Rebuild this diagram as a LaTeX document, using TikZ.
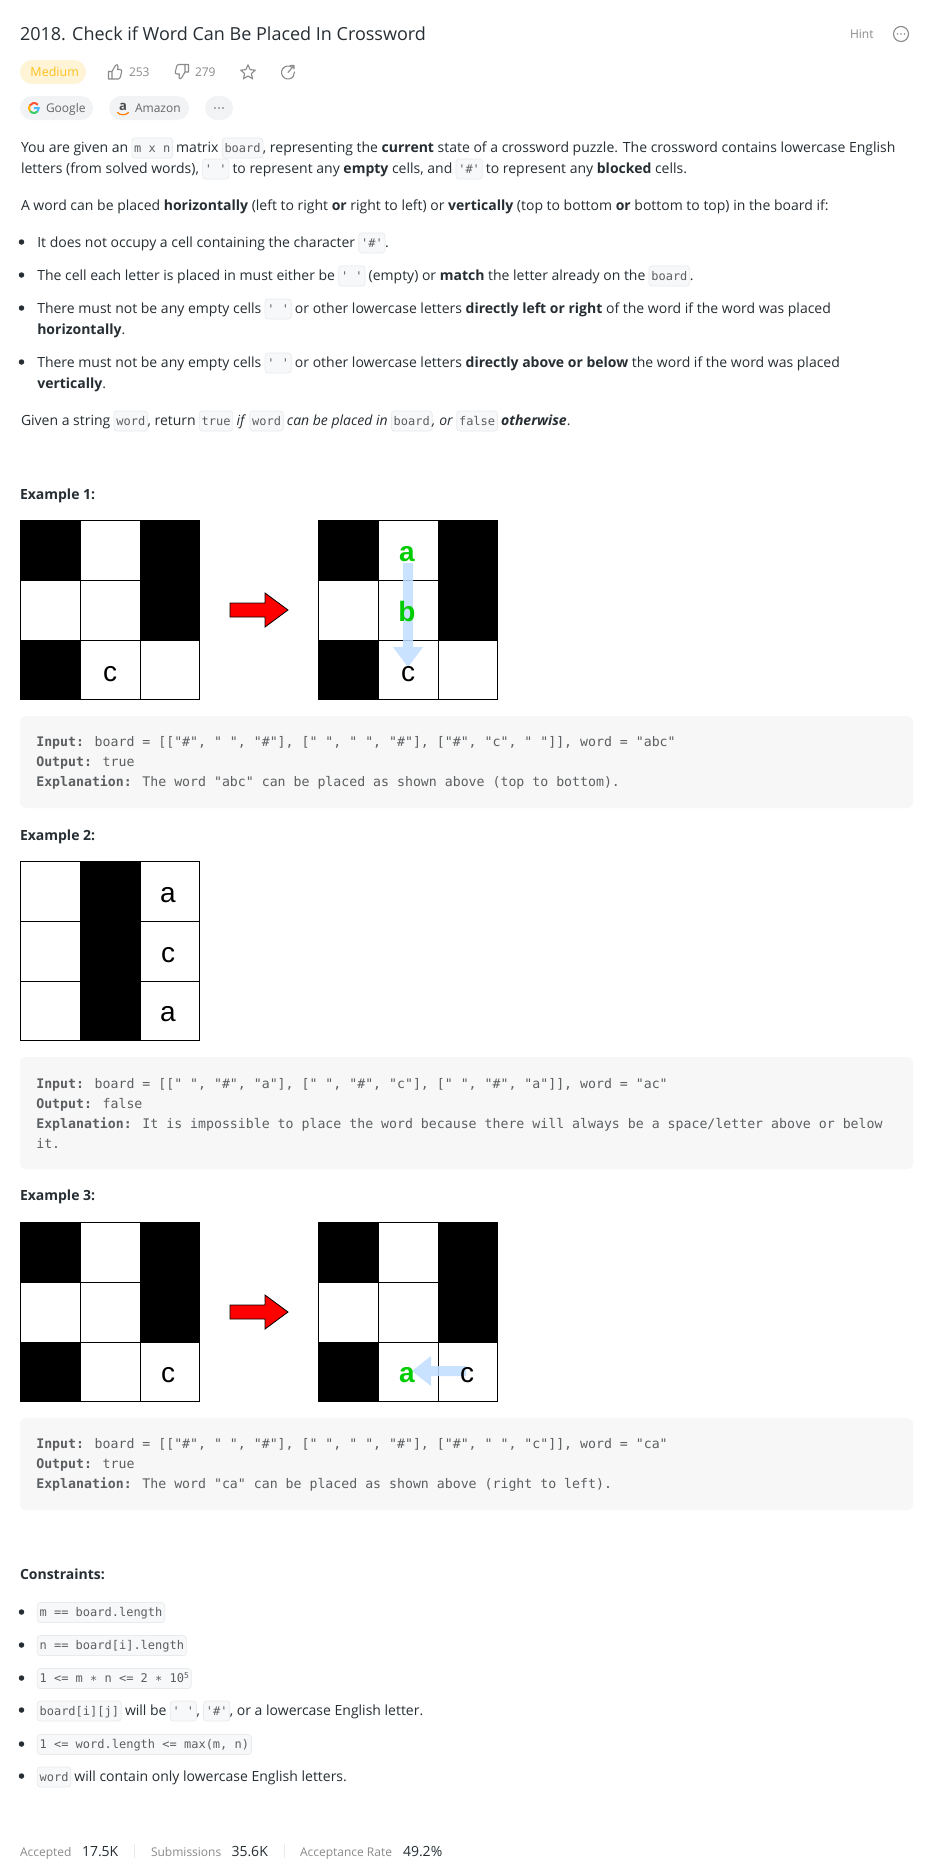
\documentclass[tikz,border=0pt]{standalone}
\usepackage{fontspec}
\usetikzlibrary{shapes.geometric}
\setmainfont{Open Sans}
\newfontfamily\cdf{DejaVu Sans Mono}
\newfontfamily\arf{Liberation Sans}
\definecolor{ink}{HTML}{262E33}
\definecolor{codeink}{HTML}{5C5F61}
\definecolor{chipbg}{HTML}{F7F8F9}
\definecolor{chipln}{HTML}{E9EAEB}
\definecolor{boxbg}{HTML}{F7F7F7}
\definecolor{pill}{HTML}{F2F3F5}
\definecolor{gicon}{HTML}{8A8A8A}
\definecolor{blueA}{HTML}{BFDDFF}
\definecolor{greenL}{HTML}{00CC00}
\definecolor{medbg}{HTML}{FFF4D6}
\definecolor{medtx}{HTML}{FFC01E}
\tikzset{
  txt/.style={anchor=base west,inner sep=0pt,outer sep=0pt,text=ink,font=\fontsize{14}{21}\selectfont},
  chip/.style={anchor=base west,draw=chipln,fill=chipbg,rounded corners=3pt,line width=0.7pt,outer sep=0pt,
    inner xsep=2.3pt,inner ysep=3pt,text height=11pt,text depth=3pt,text=codeink,font=\cdf\fontsize{12}{14}\selectfont},
  heading/.style={txt,font=\bfseries\fontsize{14}{21}\selectfont},
  small/.style={txt,text=gicon,font=\fontsize{12}{16}\selectfont},
  codeline/.style={anchor=base west,inner sep=0pt,outer sep=0pt,text=codeink,font=\cdf\fontsize{13.22}{20}\selectfont},
  codebox/.style={fill=boxbg,rounded corners=6pt},
  bullet/.style={circle,fill=ink,inner sep=0pt,minimum size=5.5pt},
  icon/.style={draw=gicon,line width=1.1pt,line join=round,line cap=round},
  cellline/.style={draw=black,line width=1pt},
  letter/.style={anchor=base,inner sep=0pt,font=\arf\fontsize{28}{28}\selectfont},
  greenletter/.style={letter,text=greenL,font=\arf\bfseries\fontsize{28}{28}\selectfont},
  redarrow/.style={fill=red,draw=black,line width=0.8pt,line join=miter},
  bluearrow/.style={fill=blueA,opacity=0.85},
}
\newcounter{sg}
\newcommand\Start[2]{\stepcounter{sg}\node[anchor=base west,inner sep=0pt,outer sep=0pt] (s\thesg) at (#1,#2) {};}
\newcommand\Tx[1]{\edef\prevn{s\thesg}\stepcounter{sg}\node[txt] (s\thesg) at (\prevn.base east) {\null#1\null};}
\newcommand\Cd[1]{\edef\prevn{s\thesg}\stepcounter{sg}\node[chip] (s\thesg) at (\prevn.base east) {#1};}
\newcommand\Bu[1]{\stepcounter{sg}\node[bullet] (s\thesg) at (21.5,#1) {};}
\newcommand\Code[3]{\stepcounter{sg}\node[codeline] (s\thesg) at (36.3,#1) {{\bfseries #2} #3};}
\newcommand\Grid[3]{
  \begin{scope}[shift={(#1,#2)}]
    \fill[white] (0,0) rectangle (180,180);
    \draw[cellline] (60,0) -- (60,180) (120,0) -- (120,180) (0,60) -- (180,60) (0,120) -- (180,120);
    \foreach \c/\r in {#3} {\fill[black] (\c*60,\r*60) rectangle (\c*60+60,\r*60+60);}
    \draw[cellline,line width=1.2pt] (0.5,0.5) rectangle (179.5,179.5);
  \end{scope}
}
\newcommand\RedArrow[1]{
  \draw[redarrow] (230,#1-7) -- (265,#1-7) -- (265,#1-17) -- (288,#1) -- (265,#1+17) -- (265,#1+7) -- (230,#1+7) -- cycle;
}
\begin{document}
\begin{tikzpicture}[x=1pt,y=-1pt]
\useasboundingbox (0,0) rectangle (933,1874);
\fill[white] (0,0) rectangle (933,1874);

% header
\node[txt,font=\fontsize{18}{24}\selectfont] (title) at (20,40.7) {2018. Check if Word Can Be Placed In Crossword};
\node[small] (hint) at (850,38.5) {Hint};
\draw[icon] (901,34) circle (7.5pt);
\foreach \x in {897.5,901,904.5} \fill[gicon] (\x,34) circle (0.8pt);

\fill[medbg,rounded corners=12pt] (20,60) rectangle (86,84);
\node[txt,text=medtx,font=\fontsize{12.5}{16}\selectfont] (medium) at (30.5,76.5) {Medium};
% thumb up
\draw[icon] (108.5,71.5) rectangle (112,79) (112,71.5) -- (115.5,65.5) .. controls (116,64) and (118.5,64.5) .. (118,66.5) -- (117.5,69.5) -- (120,69.5) .. controls (121.5,69.5) and (122,70.5) .. (121.7,71.5) -- (120.2,77.5) .. controls (120,78.5) and (119.5,79) .. (118.5,79) -- (112,79);
\node[small] (ups) at (129,76.5) {253};
% thumb down
\draw[icon] (188.5,72) rectangle (185,64.5) (185,72) -- (181.5,78) .. controls (181,79.5) and (178.5,79) .. (179,77) -- (179.5,74) -- (177,74) .. controls (175.5,74) and (175,73) .. (175.3,72) -- (176.8,66) .. controls (177,65) and (177.5,64.5) .. (178.5,64.5) -- (185,64.5);
\node[small] (downs) at (195,76.5) {279};
\node[draw=gicon,line width=1.1pt,star,star points=5,star point ratio=2.1,minimum size=15pt,inner sep=0pt] (star) at (248,72.5) {};
\draw[icon] ([shift=(55:6.5pt)]288,72.5) arc[start angle=55,end angle=365,radius=6.5pt];
\draw[icon] (288,72.5) -- (294,65.5) (290.5,65.5) -- (294,65.5) -- (294,69);

\fill[pill,rounded corners=12pt] (20,96) rectangle (93,120);
\draw[line width=2pt,red!70!orange!80] ([shift=(40:5pt)]34,108) arc[start angle=40,end angle=150,radius=5pt];
\draw[line width=2pt,orange!60!yellow] ([shift=(150:5pt)]34,108) arc[start angle=150,end angle=220,radius=5pt];
\draw[line width=2pt,green!50!teal!80] ([shift=(220:5pt)]34,108) arc[start angle=220,end angle=320,radius=5pt];
\draw[line width=2pt,blue!40!cyan!70] ([shift=(320:5pt)]34,108) arc[start angle=320,end angle=370,radius=5pt] (34,108) -- (39,108);
\node[small,text=black!60] (google) at (46,112.3) {Google};
\fill[pill,rounded corners=12pt] (109,96) rectangle (189,120);
\node[anchor=base,inner sep=0pt,text=black!70,font=\bfseries\fontsize{13}{14}\selectfont] (amz) at (123,110.5) {a};
\draw[draw=orange,line width=1.2pt,line cap=round] (117.5,112.5) .. controls (120,115.5) and (126,115.5) .. (128.5,112.5);
\node[small,text=black!60] (amazon) at (135,112.3) {Amazon};
\fill[pill,rounded corners=12pt] (205,96) rectangle (233,120);
\foreach \x in {215,219,223} \fill[black!60] (\x,108) circle (0.9pt);

% description
\Start{20}{152}
\Tx{You are given an }\Cd{m x n}\Tx{ matrix }\Cd{board}\Tx{, representing the \textbf{current} state of a crossword puzzle. The crossword contains lowercase English}
\Start{20}{173}
\Tx{letters (from solved words), }\Cd{' '}\Tx{ to represent any \textbf{empty} cells, and }\Cd{'\#'}\Tx{ to represent any \textbf{blocked} cells.}
\Start{20}{210}
\Tx{A word can be placed \textbf{horizontally} (left to right \textbf{or} right to left) or \textbf{vertically} (top to bottom \textbf{or} bottom to top) in the board if:}

\Bu{242}\Start{36.3}{247}
\Tx{It does not occupy a cell containing the character }\Cd{'\#'}\Tx{.}
\Bu{275}\Start{36.3}{280}
\Tx{The cell each letter is placed in must either be }\Cd{' '}\Tx{ (empty) or \textbf{match} the letter already on the }\Cd{board}\Tx{.}
\Bu{308}\Start{36.3}{313}
\Tx{There must not be any empty cells }\Cd{' '}\Tx{ or other lowercase letters \textbf{directly left or right} of the word if the word was placed}
\Start{36.3}{334}
\Tx{\textbf{horizontally}.}
\Bu{362}\Start{36.3}{367}
\Tx{There must not be any empty cells }\Cd{' '}\Tx{ or other lowercase letters \textbf{directly above or below} the word if the word was placed}
\Start{36.3}{388}
\Tx{\textbf{vertically}.}
\Start{20}{425}
\Tx{Given a string }\Cd{word}\Tx{, return }\Cd{true}\Tx{ \textit{if} }\Cd{word}\Tx{ \textit{can be placed in} }\Cd{board}\Tx{\textit{, or} }\Cd{false}\Tx{ \textbf{\textit{otherwise}}.}

% Example 1
\node[heading] (ex1) at (20,499) {Example 1:};
\Grid{20}{520}{0/0,2/0,2/1,0/2}
\node[letter] (c1) at (110,681) {c};
\RedArrow{610}
\Grid{318}{520}{0/0,2/0,2/1,0/2}
\fill[bluearrow] (403,563) -- (413,563) -- (413,647) -- (423,647) -- (408,667) -- (393,647) -- (403,647) -- cycle;
\node[greenletter] (a2) at (407,561.5) {a};
\node[greenletter] (b2) at (407,621) {b};
\node[letter] (c2) at (408,681) {c};
\fill[codebox] (20,716) rectangle (913,808);
\Code{746.5}{Input:}{board = [["\#", " ", "\#"], [" ", " ", "\#"], ["\#", "c", " "]], word = "abc"}
\Code{766.5}{Output:}{true}
\Code{786.5}{Explanation:}{The word "abc" can be placed as shown above (top to bottom).}

% Example 2
\node[heading] (ex2) at (20,840) {Example 2:};
\Grid{20}{861}{1/0,1/1,1/2}
\node[letter] (a3) at (168,902) {a};
\node[letter] (c3) at (168,962) {c};
\node[letter] (a4) at (168,1021.5) {a};
\fill[codebox] (20,1057) rectangle (913,1169);
\Code{1088}{Input:}{board = [[" ", "\#", "a"], [" ", "\#", "c"], [" ", "\#", "a"]], word = "ac"}
\Code{1108}{Output:}{false}
\Code{1128}{Explanation:}{It is impossible to place the word because there will always be a space/letter above or below}
\stepcounter{sg}\node[codeline] (s\thesg) at (36.3,1148) {it.};

% Example 3
\node[heading] (ex3) at (20,1200) {Example 3:};
\Grid{20}{1222}{0/0,2/0,2/1,0/2}
\node[letter] (c5) at (168,1382) {c};
\RedArrow{1312}
\Grid{318}{1222}{0/0,2/0,2/1,0/2}
\fill[bluearrow] (466,1366) -- (431,1366) -- (431,1356) -- (412,1371) -- (431,1386) -- (431,1376) -- (466,1376) -- cycle;
\node[greenletter] (a6) at (407,1382) {a};
\node[letter] (c6) at (467,1382) {c};
\fill[codebox] (20,1418) rectangle (913,1510);
\Code{1448}{Input:}{board = [["\#", " ", "\#"], [" ", " ", "\#"], ["\#", " ", "c"]], word = "ca"}
\Code{1468}{Output:}{true}
\Code{1488}{Explanation:}{The word "ca" can be placed as shown above (right to left).}

% Constraints
\node[heading] (cons) at (20,1579) {Constraints:};
\Bu{1612}\Start{36.3}{1616.5}
\Cd{m == board.length}
\Bu{1645}\Start{36.3}{1649.5}
\Cd{n == board[i].length}
\Bu{1678}\Start{36.3}{1682.5}
\Cd{1 <= m ∗ n <= 2 ∗ 10\raisebox{4pt}{\fontsize{8}{8}\selectfont 5}}
\Bu{1710}\Start{36.3}{1715}
\Cd{board[i][j]}\Tx{ will be }\Cd{' '}\Tx{, }\Cd{'\#'}\Tx{, or a lowercase English letter.}
\Bu{1744}\Start{36.3}{1748.5}
\Cd{1 <= word.length <= max(m, n)}
\Bu{1776}\Start{36.3}{1781}
\Cd{word}\Tx{ will contain only lowercase English letters.}

% Footer
\node[small] (fa) at (20,1856) {Accepted};
\node[txt] (fb) at (82,1856) {17.5K};
\draw[chipln] (134.5,1844) -- (134.5,1858);
\node[small] (fc) at (151,1856) {Submissions};
\node[txt] (fd) at (231.5,1856) {35.6K};
\draw[chipln] (284,1844) -- (284,1858);
\node[small] (fe) at (300,1856) {Acceptance Rate};
\node[txt] (ff) at (403,1856) {49.2\%};
\end{tikzpicture}
\end{document}
